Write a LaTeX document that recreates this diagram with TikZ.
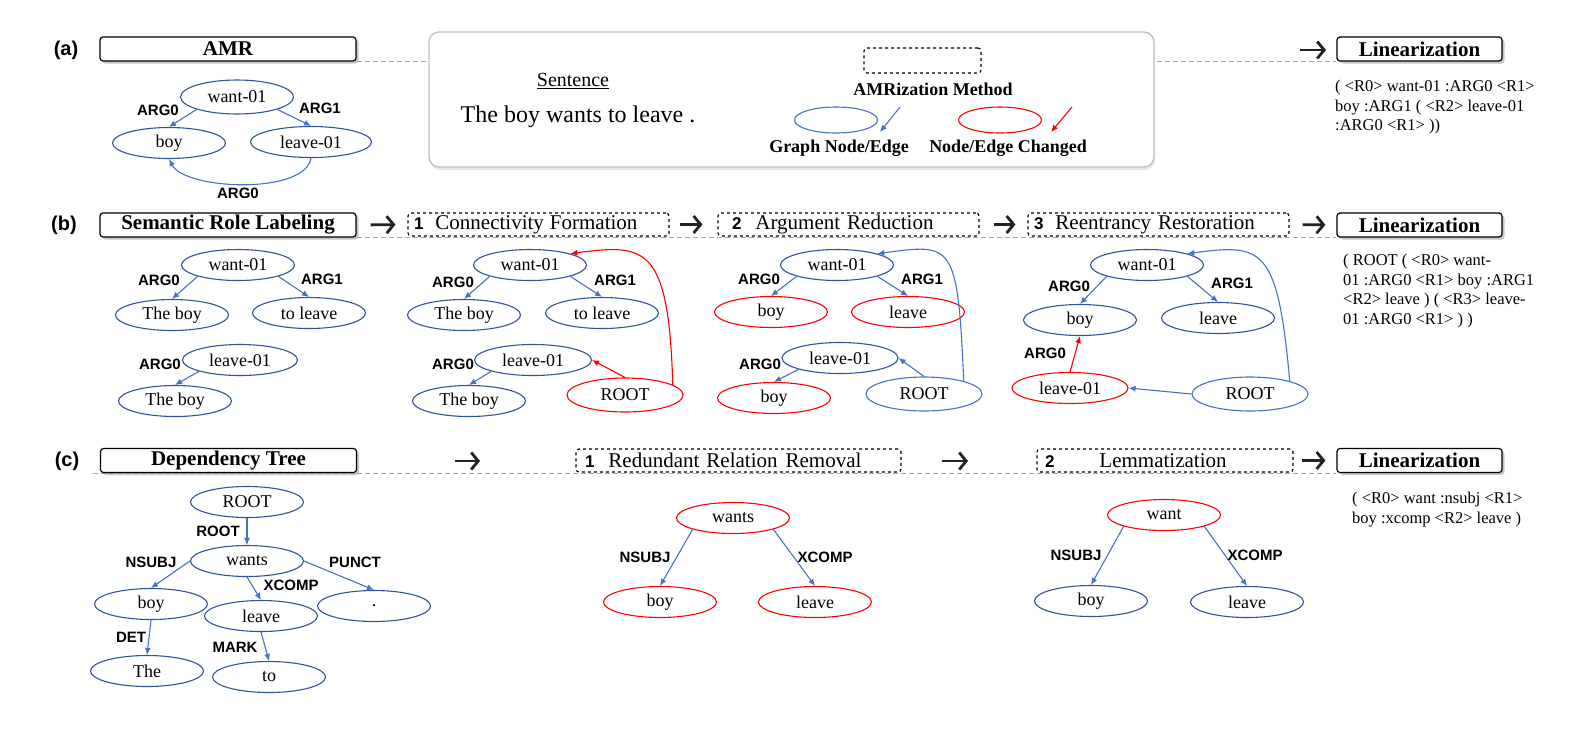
\documentclass[tikz,border=0pt]{standalone}
\usepackage{fontspec}
\setmainfont{Liberation Serif}
\setsansfont{Liberation Sans}
\usepackage{xcolor}
\usepackage{tikz}
\usetikzlibrary{shapes,arrows.meta,positioning,calc,shadows,backgrounds}

\definecolor{nodeblue}{HTML}{2F5597}
\definecolor{edgeblue}{HTML}{4472C4}
\definecolor{chgred}{HTML}{FF0000}
\definecolor{rulegray}{HTML}{A6A6A6}
\definecolor{arrowblack}{HTML}{222222}

\newcommand{\stepnum}[1]{{\sffamily\bfseries\fontsize{17}{19}\selectfont #1}}

\begin{document}
\begin{tikzpicture}[x=1pt,y=-1pt,
  graphnode/.style={ellipse, draw=nodeblue, line width=1.1pt, minimum width=113, minimum height=31, inner sep=0, font=\fontsize{18}{20}\selectfont},
  chgnode/.style={graphnode, draw=chgred},
  reledge/.style={draw=edgeblue, line width=1.1pt, -{Latex[length=7pt,width=6pt]}},
  chgedge/.style={reledge, draw=chgred},
  rel/.style={font=\sffamily\bfseries\fontsize{15}{17}\selectfont, inner sep=0},
  headbox/.style={draw, line width=1.2pt, rounded corners=3, fill=white, minimum width=256, minimum height=24, inner sep=0, font=\bfseries\fontsize{21}{23}\selectfont, drop shadow={shadow xshift=2.5pt, shadow yshift=-2.5pt, opacity=0.45}},
  stepbox/.style={draw, dashed, line width=1.1pt, rounded corners=3, fill=white, minimum height=23, inner xsep=6, inner ysep=0, align=left, text width=#1, font=\fontsize{21}{23}\selectfont},
  legendbox/.style={draw=black!25, line width=1.3pt, rounded corners=10, fill=white, minimum width=725, minimum height=135, drop shadow={shadow xshift=1pt, shadow yshift=-3pt, opacity=0.2}},
  legtext/.style={font=\bfseries\fontsize{18}{20}\selectfont, inner sep=0},
  rowlabel/.style={font=\sffamily\bfseries\fontsize{20}{22}\selectfont, inner sep=0},
  linear/.style={anchor=north west, align=left, inner sep=0, font=\fontsize{16.5}{19.5}\selectfont},
  sepline/.style={draw=rulegray, line width=1pt, dash pattern=on 5pt off 3pt},
  bigarrow/.style={draw=arrowblack, line width=2.8pt, -{Straight Barb[length=7pt,width=17pt]}},
]
\useasboundingbox (0,0) rectangle (1578,732);

% ---------------- (a) AMR ----------------
\node[rowlabel] (rowa) at (66,50) {(a)};
\node[headbox] (amr) at (228,49) {AMR};
\node[legendbox] (legend) at (791.5,99.5) {};
\node[headbox, minimum width=165] (lina) at (1419.5,49) {Linearization};
\coordinate (arrAs) at (1300,50);
\coordinate (arrAe) at (1326,50);
\draw[bigarrow] (arrAs) -- (arrAe);

% legend
\node[inner sep=0, font=\fontsize{20}{22}\selectfont] (sentHead) at (573,81) {\underline{Sentence}};
\node[inner sep=0, font=\fontsize{24}{26}\selectfont] (sent) at (578,117) {The boy wants to leave .};
\node[stepbox=105, minimum height=25] (legStep) at (922.5,60.5) {};
\node[legtext] (legStepTxt) at (933,89) {AMRization Method};
\node[graphnode, draw=edgeblue, minimum width=83, minimum height=26] (legNode) at (836,120) {};
\coordinate (legEa) at (900,107);
\coordinate (legEb) at (880,132);
\draw[reledge] (legEa) -- (legEb);
\node[chgnode, minimum width=83, minimum height=26] (legChg) at (1000,120) {};
\coordinate (legCa) at (1072,107);
\coordinate (legCb) at (1051,132);
\draw[chgedge] (legCa) -- (legCb);
\node[legtext] (legNodeTxt) at (839,148) {Graph Node/Edge};
\node[legtext] (legChgTxt) at (1008,148) {Node/Edge Changed};

% AMR graph
\node[graphnode, minimum height=34] (aWant) at (237,97) {want-01};
\node[graphnode] (aBoy) at (169,143) {boy};
\node[graphnode, minimum width=121] (aLeave) at (311,142) {leave-01};
\draw[reledge] (aWant.south west) -- (aBoy.north);
\draw[reledge] (aWant.south east) -- (aLeave.north);
\draw[reledge] (aLeave.south) .. controls +(-6,37) and +(16,31) .. (aBoy.south);
\node[rel] (aA0) at (158,110) {ARG0};
\node[rel] (aA1) at (320,108) {ARG1};
\node[rel] (aA0b) at (238,193) {ARG0};

\node[linear] (linaTxt) at (1335,80) {( <R0> want-01 :ARG0 <R1>\\boy :ARG1 ( <R2> leave-01\\:ARG0 <R1> ))};

% ---------------- (b) SRL ----------------
\node[rowlabel] (rowb) at (64,225) {(b)};
\node[headbox] (srl) at (228,225) {Semantic Role Labeling};
\node[stepbox=249] (cf) at (538.5,224.5) {\stepnum{1}\hspace{12pt}Connectivity\hspace{6pt}Formation};
\node[stepbox=249] (ar) at (848.5,224.5) {\hspace{8pt}\stepnum{2}\hspace{14pt}Argument Reduction};
\node[stepbox=249] (rr) at (1158.5,224.5) {\stepnum{3}\hspace{12pt}Reentrancy Restoration};
\node[headbox, minimum width=165] (linb) at (1419.5,225) {Linearization};
\draw[bigarrow, shorten <=14pt, shorten >=12pt] (srl.east) -- (cf.west);
\draw[bigarrow, shorten <=10pt, shorten >=15pt] (cf.east) -- (ar.west);
\draw[bigarrow, shorten <=14pt, shorten >=12pt] (ar.east) -- (rr.west);
\draw[bigarrow, shorten <=13pt, shorten >=11pt] (rr.east) -- (linb.west);

% semantic role labeling
\node[graphnode] (sWant) at (238,265) {want-01};
\node[graphnode] (sBoy) at (172,315) {The boy};
\node[graphnode] (sLeave) at (309,313) {to leave};
\node[graphnode, minimum width=115] (sLeave01) at (240,360) {leave-01};
\node[graphnode] (sBoyB) at (175,401) {The boy};
\draw[reledge] (sWant.south west) -- (sBoy.north);
\draw[reledge] (sWant.south east) -- (sLeave.north);
\draw[reledge] (sLeave01.south west) -- (sBoyB.north);
\node[rel] (sA0) at (159,280) {ARG0};
\node[rel] (sA1) at (322,279) {ARG1};
\node[rel] (sA0b) at (160,364) {ARG0};

% 1 connectivity formation
\node[graphnode] (cWant) at (530,265) {want-01};
\node[graphnode] (cBoy) at (464,315) {The boy};
\node[graphnode] (cLeave) at (602,313) {to leave};
\node[graphnode, minimum width=117] (cLeave01) at (533,360) {leave-01};
\node[graphnode] (cBoyB) at (469,401) {The boy};
\node[chgnode, minimum width=116, minimum height=34] (cRoot) at (625,395) {ROOT};
\draw[reledge] (cWant.south west) -- (cBoy.north);
\draw[reledge] (cWant.south east) -- (cLeave.north);
\draw[reledge] (cLeave01.south west) -- (cBoyB.north);
\draw[chgedge] (cRoot.north) -- (cLeave01.east);
\draw[chgedge] (cRoot.12) .. controls +(-4,-140) and +(75,-10) .. (cWant.north east);
\node[rel] (cA0) at (453,282) {ARG0};
\node[rel] (cA1) at (615,280) {ARG1};
\node[rel] (cA0b) at (453,364) {ARG0};

% 2 argument reduction
\node[graphnode] (rWant) at (837,265) {want-01};
\node[chgnode] (rBoy) at (771,312) {boy};
\node[chgnode] (rLeave) at (908,312) {leave};
\node[graphnode, minimum width=116] (rLeave01) at (840,358) {leave-01};
\node[chgnode] (rBoyB) at (774,398) {boy};
\node[graphnode, draw=edgeblue, minimum width=116, minimum height=34] (rRoot) at (924,394) {ROOT};
\draw[reledge] (rWant.south west) -- (rBoy.north);
\draw[reledge] (rWant.south east) -- (rLeave.north);
\draw[reledge] (rLeave01.south west) -- (rBoyB.north);
\draw[reledge] (rRoot.north) -- (rLeave01.east);
\draw[reledge] (rRoot.18) .. controls +(-6,-140) and +(75,-10) .. (rWant.north east);
\node[rel] (rA0) at (759,279) {ARG0};
\node[rel] (rA1) at (922,279) {ARG1};
\node[rel] (rA0b) at (760,364) {ARG0};

% 3 reentrancy restoration
\node[graphnode] (tWant) at (1147,265) {want-01};
\node[graphnode] (tBoy) at (1080,320) {boy};
\node[graphnode] (tLeave) at (1218,318) {leave};
\node[chgnode, minimum width=116] (tLeave01) at (1070,388) {leave-01};
\node[graphnode, draw=edgeblue, minimum width=116, minimum height=34] (tRoot) at (1250,394) {ROOT};
\draw[reledge] (tWant.south west) -- (tBoy.north);
\draw[reledge] (tWant.south east) -- (tLeave.north);
\draw[chgedge] (tLeave01.north) -- (tBoy.south);
\draw[reledge] (tRoot.west) -- (tLeave01.east);
\draw[reledge] (tRoot.18) .. controls +(-12,-135) and +(75,-10) .. (tWant.north east);
\node[rel] (tA0) at (1069,286) {ARG0};
\node[rel] (tA1) at (1232,283) {ARG1};
\node[rel] (tA0b) at (1045,353) {ARG0};

\node[linear] (linbTxt) at (1343,254) {( ROOT ( <R0> want-\\01 :ARG0 <R1> boy :ARG1\\<R2> leave ) ( <R3> leave-\\01 :ARG0 <R1> ) )};

% ---------------- (c) dependency tree ----------------
\node[rowlabel] (rowc) at (67,461) {(c)};
\node[headbox] (dt) at (228.5,460.5) {Dependency Tree};
\node[stepbox=313] (rrr) at (738.5,460.5) {\hspace{3pt}\stepnum{1}\hspace{14pt}Redundant Relation\hspace{8pt}Removal};
\node[stepbox=244] (lemm) at (1165,460.5) {\hspace{2pt}\stepnum{2}\hspace{45pt}Lemmatization};
\node[headbox, minimum width=165] (linc) at (1419.5,460.5) {Linearization};
\coordinate (arrC1s) at (455,461);
\coordinate (arrC1e) at (480,461);
\draw[bigarrow] (arrC1s) -- (arrC1e);
\coordinate (arrC2s) at (942,461);
\coordinate (arrC2e) at (968,461);
\draw[bigarrow] (arrC2s) -- (arrC2e);
\draw[bigarrow, shorten <=8pt, shorten >=11pt] (lemm.east) -- (linc.west);

% dependency tree
\node[graphnode] (dRoot) at (247,502) {ROOT};
\node[graphnode] (dWants) at (247,561) {wants};
\node[graphnode] (dBoy) at (151,604) {boy};
\node[graphnode] (dLeave) at (261,616) {leave};
\node[graphnode] (dDot) at (374,606) {.};
\node[graphnode] (dThe) at (147,671) {The};
\node[graphnode] (dTo) at (269,677) {to};
\draw[reledge] (dRoot.south) -- (dWants.north);
\draw[reledge] (dWants.west) -- (dBoy.north);
\draw[reledge] (dWants.south) -- (dLeave.north);
\draw[reledge] (dWants.east) -- (dDot.north);
\draw[reledge] (dBoy.south) -- (dThe.north);
\draw[reledge] (dLeave.south) -- (dTo.north);
\node[rel] (dLRoot) at (218,531) {ROOT};
\node[rel] (dLNsubj) at (151,562) {NSUBJ};
\node[rel] (dLPunct) at (355,562) {PUNCT};
\node[rel] (dLXcomp) at (291,585) {XCOMP};
\node[rel] (dLDet) at (131,637) {DET};
\node[rel] (dLMark) at (235,647) {MARK};

% 1 redundant relation removal
\node[chgnode] (eWants) at (733,518) {wants};
\node[chgnode] (eBoy) at (660,602) {boy};
\node[chgnode] (eLeave) at (815,602) {leave};
\draw[reledge] (eWants.south west) -- (eBoy.north);
\draw[reledge] (eWants.south east) -- (eLeave.north);
\node[rel] (eLNsubj) at (645,557) {NSUBJ};
\node[rel] (eLXcomp) at (825,557) {XCOMP};

% 2 lemmatization
\node[chgnode] (mWant) at (1164,515) {want};
\node[graphnode] (mBoy) at (1091,601) {boy};
\node[graphnode] (mLeave) at (1247,602) {leave};
\draw[reledge] (mWant.south west) -- (mBoy.north);
\draw[reledge] (mWant.south east) -- (mLeave.north);
\node[rel] (mLNsubj) at (1076,555) {NSUBJ};
\node[rel] (mLXcomp) at (1255,555) {XCOMP};

\node[linear] (lincTxt) at (1352,492) {( <R0> want :nsubj <R1>\\boy :xcomp <R2> leave )};

% dashed separators behind the boxes
\begin{pgfonlayer}{background}
\draw[sepline] (amr.south east) -- (lina.south west);
\draw[sepline] (srl.south east) -- (linb.south west);
\draw[sepline] ([xshift=-7pt]dt.south west) -- (linc.south west);
\end{pgfonlayer}

\end{tikzpicture}
\end{document}
